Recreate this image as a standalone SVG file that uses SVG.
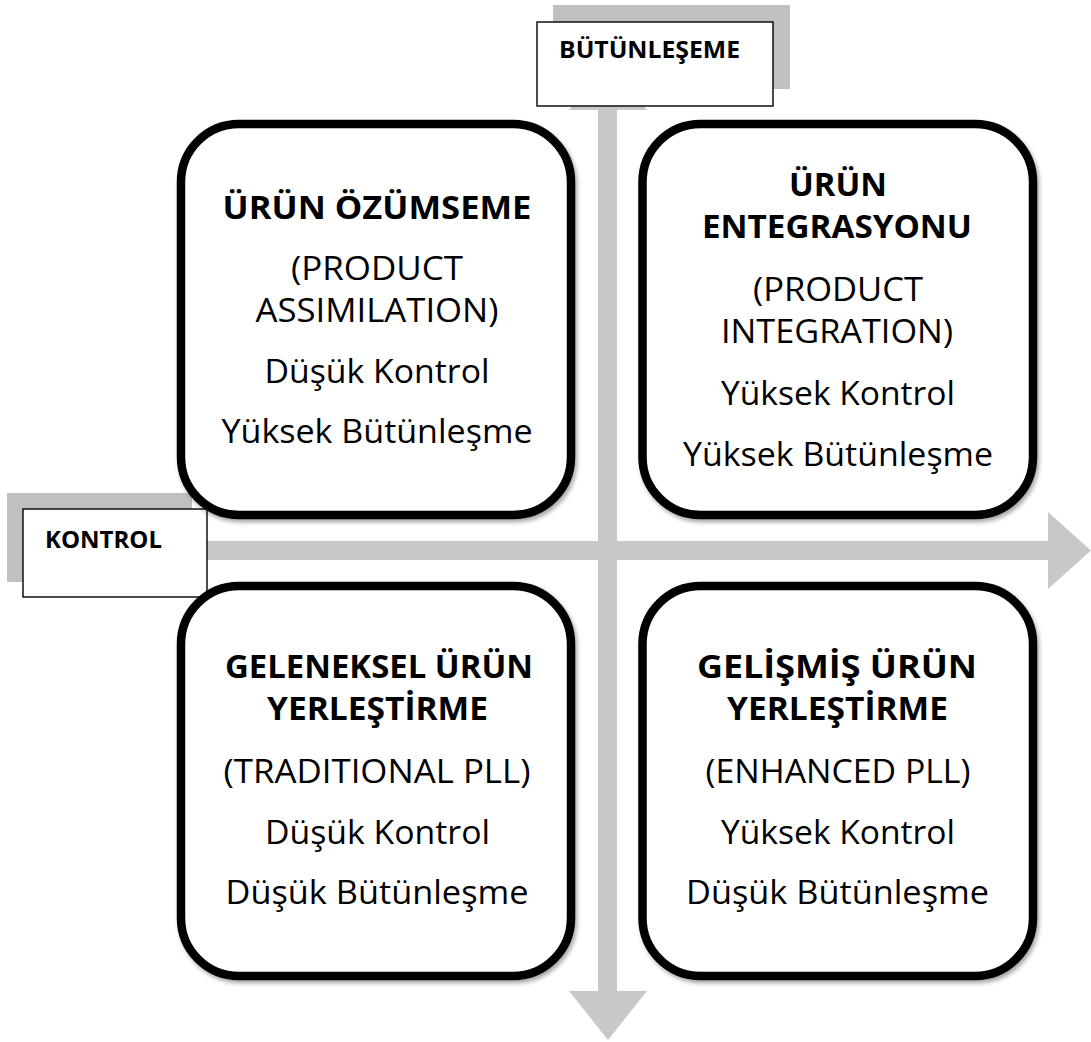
<svg xmlns="http://www.w3.org/2000/svg" width="1091" height="1042" viewBox="0 0 1091 1042">
<defs>
<filter id="sh" x="-10%" y="-10%" width="120%" height="120%">
<feDropShadow dx="2" dy="3" stdDeviation="2" flood-color="#000" flood-opacity="0.35"/>
</filter>
<style>
.quad{fill:#fff;stroke:#000;stroke-width:8.5;filter:url(#sh)}
.lblbox{fill:#fff;stroke:#000;stroke-width:1.4}
.lblsh{fill:#c0c0c0}
.arrow{fill:#c8c8c8}
text{font-family:"Open Sans","Noto Sans","DejaVu Sans",sans-serif;fill:#000;text-anchor:middle}
.t{font-size:33px}
.b{font-size:33px;font-weight:bold}
.lb{font-size:24px;font-weight:bold}
</style>
</defs>
<rect width="1091" height="1042" fill="#fff"/>
<g id="connectors">
<polygon class="arrow" points="30,541 1048,541 1048,512 1091,550.5 1048,589 1048,560 30,560"/>
<polygon class="arrow" points="608,61 647,110 617,110 617,991 647,991 608,1040 569,991 598,991 598,110 569,110"/>
</g>
<g id="label-butunlesme">
<rect class="lblsh" x="553" y="5" width="237" height="84"/>
<rect class="lblbox" x="537" y="22" width="236" height="84"/>
<text class="lb" x="649.5" y="58" textLength="181" lengthAdjust="spacingAndGlyphs">BÜTÜNLEŞEME</text>
</g>
<g id="label-kontrol">
<rect class="lblsh" x="7" y="493" width="185" height="89"/>
<rect class="lblbox" x="23" y="509" width="184" height="88"/>
<text class="lb" x="103.5" y="548" textLength="117" lengthAdjust="spacingAndGlyphs">KONTROL</text>
</g>
<g id="product-assimilation">
<rect class="quad" x="181" y="124" width="390" height="391" rx="58" ry="58"/>
<text class="b" x="377" y="219" textLength="309" lengthAdjust="spacingAndGlyphs">ÜRÜN ÖZÜMSEME</text>
<text class="t" x="377" y="280" textLength="172" lengthAdjust="spacingAndGlyphs">(PRODUCT</text>
<text class="t" x="377" y="322" textLength="243" lengthAdjust="spacingAndGlyphs">ASSIMILATION)</text>
<text class="t" x="377" y="383" textLength="225" lengthAdjust="spacingAndGlyphs">Düşük Kontrol</text>
<text class="t" x="377" y="443" textLength="311" lengthAdjust="spacingAndGlyphs">Yüksek Bütünleşme</text>
</g>
<g id="product-integration">
<rect class="quad" x="642.5" y="124" width="390.5" height="391" rx="58" ry="58"/>
<text class="b" x="838" y="196" textLength="98" lengthAdjust="spacingAndGlyphs">ÜRÜN</text>
<text class="b" x="837" y="238" textLength="270" lengthAdjust="spacingAndGlyphs">ENTEGRASYONU</text>
<text class="t" x="838" y="301" textLength="170" lengthAdjust="spacingAndGlyphs">(PRODUCT</text>
<text class="t" x="837" y="343" textLength="232" lengthAdjust="spacingAndGlyphs">INTEGRATION)</text>
<text class="t" x="838" y="405" textLength="234" lengthAdjust="spacingAndGlyphs">Yüksek Kontrol</text>
<text class="t" x="838" y="466" textLength="310" lengthAdjust="spacingAndGlyphs">Yüksek Bütünleşme</text>
</g>
<g id="traditional-pll">
<rect class="quad" x="181" y="586" width="390" height="390" rx="58" ry="58"/>
<text class="b" x="379" y="678" textLength="308" lengthAdjust="spacingAndGlyphs">GELENEKSEL ÜRÜN</text>
<text class="b" x="377.5" y="720" textLength="221" lengthAdjust="spacingAndGlyphs">YERLEŞTİRME</text>
<text class="t" x="377" y="783" textLength="307" lengthAdjust="spacingAndGlyphs">(TRADITIONAL PLL)</text>
<text class="t" x="377.5" y="844" textLength="225" lengthAdjust="spacingAndGlyphs">Düşük Kontrol</text>
<text class="t" x="377" y="904" textLength="303" lengthAdjust="spacingAndGlyphs">Düşük Bütünleşme</text>
</g>
<g id="enhanced-pll">
<rect class="quad" x="642.5" y="586" width="390.5" height="390" rx="58" ry="58"/>
<text class="b" x="837" y="678" textLength="280" lengthAdjust="spacingAndGlyphs">GELİŞMİŞ ÜRÜN</text>
<text class="b" x="837.5" y="720" textLength="221" lengthAdjust="spacingAndGlyphs">YERLEŞTİRME</text>
<text class="t" x="838" y="783" textLength="265" lengthAdjust="spacingAndGlyphs">(ENHANCED PLL)</text>
<text class="t" x="838" y="844" textLength="234" lengthAdjust="spacingAndGlyphs">Yüksek Kontrol</text>
<text class="t" x="837.5" y="904" textLength="303" lengthAdjust="spacingAndGlyphs">Düşük Bütünleşme</text>
</g>
</svg>
